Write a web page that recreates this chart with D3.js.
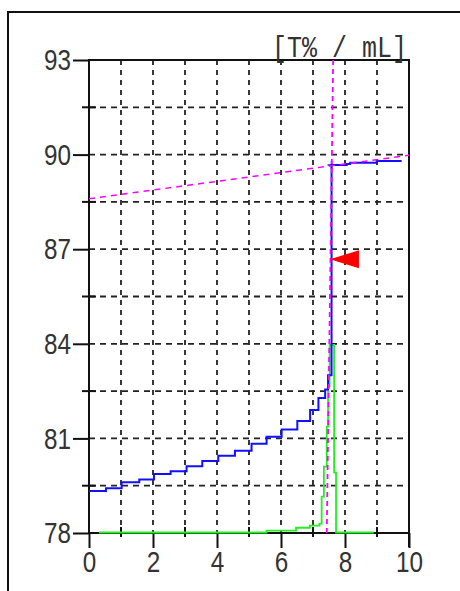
<!DOCTYPE html>
<html><head><meta charset="utf-8">
<script src="https://cdn.jsdelivr.net/npm/d3@7/dist/d3.min.js"></script>
<style>html,body{margin:0;padding:0;background:#fff;}svg{display:block;}</style>
</head><body>
<script>
// ---- data ----
const xMajorTicks = [0, 2, 4, 6, 8, 10];
const xMinorTicks = [1, 3, 5, 7, 9];
const yMajorTicks = [78, 81, 84, 87, 90, 93];
const yMinorTicks = [79.5, 82.5, 85.5, 88.5, 91.5];
const xGrid = [1, 2, 3, 4, 5, 6, 7, 8, 9];
const yGrid = [79.5, 81, 82.5, 84, 85.5, 87, 88.5, 90, 91.5];
const unitLabel = "[T% / mL]";

// titration curve (step, T%)
const blueX = [0, 0.53, 1.02, 1.57, 2.03, 2.55, 3.05, 3.54, 4.04, 4.56, 5.08, 5.55, 6.02, 6.51, 6.91, 7.17, 7.38, 7.47, 7.58, 8.05, 8.16, 8.99, 9.77];
const blueY = [79.33, 79.42, 79.61, 79.70, 79.87, 79.96, 80.12, 80.28, 80.45, 80.61, 80.83, 81.05, 81.28, 81.55, 81.90, 82.28, 82.55, 83.0, 89.67, 89.70, 89.74, 89.80, 89.80];
// derivative curve (step)
const greenX = [0.31, 5.55, 6.47, 6.9, 7.2, 7.27, 7.34, 7.43, 7.47, 7.52, 7.66, 7.72, 8.9];
const greenY = [78.0, 78.06, 78.15, 78.22, 78.28, 79.14, 80.09, 81.36, 82.63, 83.95, 79.9, 78.0, 78.0];
// tangent lines
const baseLineX = [0, 10];
const baseLineY = [88.6, 89.98];
const steepLineX = [7.63, 7.43];
const steepLineY = [93, 78];
// end point
const endPointX = [7.53];
const endPointY = [86.68];
const cornerX = [7.58];
const cornerY = [89.67];

// ---- chart ----
const W = 460, H = 591;
const svg = d3.select("body").append("svg").attr("width", W).attr("height", H);
svg.append("rect").attr("width", W).attr("height", H).attr("fill", "#fff");
// outer frame
svg.append("path").attr("d", `M8,${H + 2} V12 H${W + 2}`).attr("fill", "none").attr("stroke", "#111").attr("stroke-width", 2);

const x = d3.scaleLinear().domain([0, 10]).range([89, 409]);
const y = d3.scaleLinear().domain([78, 93]).range([533, 60]);

const FONT = "'Liberation Sans Narrow', 'Liberation Sans', Arial, sans-serif";
const axisColor = "#111";

// grid
const g = svg.append("g");
g.selectAll(".vg").data(xGrid).join("line")
  .attr("x1", d => x(d)).attr("x2", d => x(d)).attr("y1", y(93)).attr("y2", y(78))
  .attr("stroke", "#222").attr("stroke-width", 1.8).attr("stroke-dasharray", "5,5");
g.selectAll(".hg").data(yGrid).join("line")
  .attr("x1", x(0)).attr("x2", x(10)).attr("y1", d => y(d)).attr("y2", d => y(d))
  .attr("stroke", "#222").attr("stroke-width", 1.8).attr("stroke-dasharray", "6,5");

// axes lines
svg.append("path").attr("d", `M${x(0)},${y(78)} V${y(93)} H${x(10)} V${y(78) + 14} M${x(0)},${y(78)} H${x(10)}`)
  .attr("fill", "none").attr("stroke", axisColor).attr("stroke-width", 2);

// y axis
const yAxis = d3.axisLeft(y).tickValues(yMajorTicks).tickSize(16).tickPadding(2).tickFormat(d3.format("d"));
const ya = svg.append("g").attr("transform", `translate(${x(0)},0)`).call(yAxis);
ya.select(".domain").remove();
ya.selectAll(".tick line").attr("stroke", axisColor).attr("stroke-width", 2);
ya.selectAll(".tick text").attr("font-family", FONT).attr("font-size", 30).attr("fill", "#333")
  .attr("textLength", 27).attr("lengthAdjust", "spacingAndGlyphs");
svg.selectAll(".ymin").data(yMinorTicks).join("line")
  .attr("x1", x(0) - 7).attr("x2", x(0) + 7).attr("y1", d => y(d)).attr("y2", d => y(d))
  .attr("stroke", axisColor).attr("stroke-width", 2);

// x axis
const xAxis = d3.axisBottom(x).tickValues(xMajorTicks).tickSize(15).tickPadding(3).tickFormat(d3.format("d"));
const xa = svg.append("g").attr("transform", `translate(0,${y(78)})`).call(xAxis);
xa.select(".domain").remove();
xa.selectAll(".tick line").attr("stroke", axisColor).attr("stroke-width", 2);
xa.selectAll(".tick text").attr("font-family", FONT).attr("font-size", 30).attr("fill", "#333")
  .attr("textLength", d => String(d).length * 13.5).attr("lengthAdjust", "spacingAndGlyphs");
svg.selectAll(".xmin").data(xMinorTicks).join("line")
  .attr("x1", d => x(d)).attr("x2", d => x(d)).attr("y1", y(78) - 6).attr("y2", y(78) + 4)
  .attr("stroke", axisColor).attr("stroke-width", 2);

// curves
const stepLine = d3.line().x(d => x(d[0])).y(d => y(d[1])).curve(d3.curveStepAfter);
const straight = d3.line().x(d => x(d[0])).y(d => y(d[1]));

svg.append("path").datum(d3.zip(greenX, greenY)).attr("d", stepLine)
  .attr("fill", "none").attr("stroke", "#22ee22").attr("stroke-width", 1.8)
  .attr("transform", "translate(0,-0.5)");
svg.append("path").datum(d3.zip(blueX, blueY)).attr("d", stepLine)
  .attr("fill", "none").attr("stroke", "#1010ff").attr("stroke-width", 2);
// corner cross
svg.selectAll(".cross").data(d3.zip(cornerX, cornerY)).join("path")
  .attr("d", d => `M${x(d[0]) - 4},${y(d[1])} h8 M${x(d[0])},${y(d[1]) - 4} v8`)
  .attr("stroke", "#1010ff").attr("stroke-width", 1.5);

svg.append("path").datum(d3.zip(baseLineX, baseLineY)).attr("d", straight)
  .attr("fill", "none").attr("stroke", "#ff00ff").attr("stroke-width", 1.5).attr("stroke-dasharray", "6,5");
svg.append("path").datum(d3.zip(steepLineX, steepLineY)).attr("d", straight)
  .attr("fill", "none").attr("stroke", "#ff00ff").attr("stroke-width", 1.8).attr("stroke-dasharray", "5,4");

// end point marker (red triangle pointing left)
svg.selectAll(".ep").data(d3.zip(endPointX, endPointY)).join("path")
  .attr("d", d => { const px = x(d[0]), py = y(d[1]); return `M${px},${py} L${px + 29},${py - 9} L${px + 29},${py + 9} Z`; })
  .attr("fill", "#ff0000");

// unit label
svg.append("text").attr("x", 272).attr("y", 57).text(unitLabel)
  .attr("font-family", "'Liberation Mono', 'DejaVu Sans Mono', monospace").attr("font-size", 30)
  .attr("fill", "#333").attr("textLength", 135).attr("lengthAdjust", "spacingAndGlyphs")
  .style("white-space", "pre");
</script>
</body></html>
